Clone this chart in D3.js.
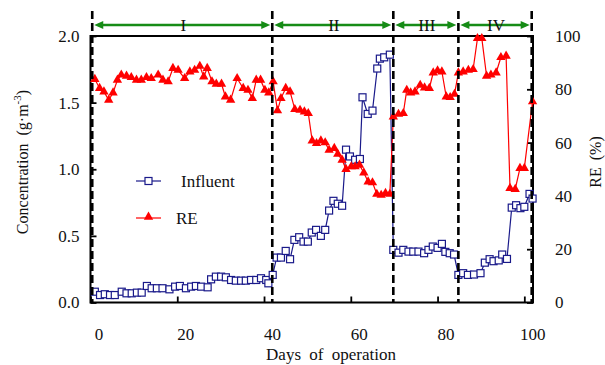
<!DOCTYPE html>
<html>
<head>
<meta charset="utf-8">
<script src="https://d3js.org/d3.v7.min.js"></script>
<style>
  body { margin: 0; background: #fff; }
  svg text { font-family: 'Liberation Serif', 'Times New Roman', serif; fill: #111; }
</style>
</head>
<body>
<div id="root"></div>
<script>
// influent concentration (g/m3)
var influentDays = [1.0, 2.2, 3.3, 4.5, 5.6, 7.2, 8.3, 9.5, 10.7, 11.8, 13.0, 14.1, 15.3, 16.6, 18.2,
  19.5, 20.6, 22.0, 23.2, 24.3, 25.5, 27.0, 27.8, 28.9, 30.1, 31.2, 32.4, 33.5, 34.7, 35.8, 37.0,
  38.2, 39.3, 40.5, 41.0, 42.0,
  42.9, 43.9, 45.0, 46.0, 47.0, 48.1, 49.1, 50.1, 51.0, 52.0, 53.1, 54.1, 55.0, 56.0, 57.0, 58.0,
  58.9, 59.8, 61.0, 62.1, 62.7, 63.9, 65.0, 66.1, 66.7, 67.7, 69.0,
  69.8, 71.0, 72.1, 73.3, 74.4, 75.6, 76.9, 77.9, 78.9, 80.0, 81.0, 81.8, 82.8, 83.8,
  84.8, 85.9, 87.0, 88.4, 89.9, 90.9, 92.0, 92.9, 94.1, 94.9, 96.0, 97.1, 98.1, 99.1, 100.0, 101.2, 101.9];
var influentValues = [0.081, 0.056, 0.062, 0.056, 0.056, 0.081, 0.069, 0.069, 0.074, 0.074, 0.124, 0.107, 0.107, 0.107, 0.099,
  0.119, 0.124, 0.107, 0.119, 0.124, 0.119, 0.114, 0.174, 0.194, 0.194, 0.189, 0.169, 0.164, 0.164, 0.164, 0.169,
  0.169, 0.182, 0.169, 0.144, 0.207,
  0.337, 0.337, 0.387, 0.325, 0.470, 0.490, 0.457, 0.457, 0.525, 0.545, 0.500, 0.545, 0.690, 0.763, 0.741, 0.726,
  1.147, 1.096, 1.071, 1.077, 1.540, 1.415, 1.440, 1.756, 1.830, 1.840, 1.860,
  0.395, 0.374, 0.395, 0.382, 0.382, 0.382, 0.370, 0.395, 0.420, 0.410, 0.440, 0.380, 0.370, 0.360,
  0.207, 0.220, 0.207, 0.210, 0.220, 0.299, 0.325, 0.310, 0.316, 0.360, 0.327, 0.712, 0.730, 0.708, 0.718, 0.815, 0.780];

// removal efficiency (%)
var reDays = [1.0, 2.1, 3.1, 4.2, 5.2, 6.2, 7.1, 8.3, 9.4, 10.6, 11.7, 12.9, 14.0, 15.6, 16.7, 17.9,
  19.0, 20.2, 21.7, 22.9, 24.0, 25.2, 26.1, 26.9, 28.0, 29.0, 30.2, 31.1, 32.3, 33.8, 35.2, 36.3,
  37.3, 38.2, 39.2, 40.2, 41.1, 42.1,
  43.1, 43.9, 45.0, 46.0, 47.1, 48.3, 49.3, 50.2, 51.1, 52.1, 53.1, 54.1, 55.0, 56.2, 57.0, 58.0,
  58.9, 60.1, 61.0, 62.0, 63.0, 64.0, 65.0, 66.0, 67.0, 68.0, 69.0,
  69.8, 71.0, 72.1, 72.9, 73.8, 74.8, 76.0, 77.0, 78.1, 79.0, 80.0, 81.0, 82.0, 82.9, 83.9,
  84.8, 85.9, 87.1, 88.2, 89.2, 90.2, 91.3, 92.3, 93.5, 94.6, 95.8, 96.7, 97.9, 99.0, 100.0, 101.9];
var reValues = [83.8, 80.4, 79.1, 76.0, 78.7, 83.5, 85.4, 85.0, 84.5, 83.5, 83.5, 84.5, 84.1, 85.4, 83.5, 82.9,
  87.9, 87.2, 84.1, 86.6, 87.2, 88.7, 84.7, 87.9, 82.9, 82.0, 82.0, 77.2, 76.0, 84.1, 80.4, 79.7,
  76.6, 83.5, 83.5, 79.7, 78.7, 82.9,
  72.0, 76.6, 80.4, 79.1, 72.5, 72.2, 71.6, 71.0, 60.7, 59.7, 60.7, 60.0, 57.2, 57.9, 55.7, 53.5,
  50.0, 51.0, 51.0, 51.6, 48.7, 45.3, 45.0, 40.7, 40.3, 41.0, 40.7,
  69.7, 70.7, 71.0, 79.7, 78.7, 79.1, 81.6, 80.6, 80.4, 86.2, 87.0, 86.6, 77.2, 77.0, 78.2,
  86.2, 86.6, 87.2, 87.5, 99.1, 99.1, 85.0, 85.4, 86.2, 92.0, 92.5, 42.9, 42.5, 50.4, 50.4, 75.4];

var phaseBounds = [0.4, 41.9, 69.8, 84.8, 101.7];
var phaseLabels = ['I', 'II', 'III', 'IV'];

var xTicks = [0, 20, 40, 60, 80, 100];
var concTicks = [0, 0.5, 1.0, 1.5, 2.0];
var reTicks = [0, 20, 40, 60, 80, 100];

var w = 605, h = 365;
var blue = '#1a1a8a', red = '#ff0000', green = '#168c16';
var serif = "'Liberation Serif', 'Times New Roman', serif";

var svg = d3.select('#root')
  .append('svg')
    .attr('width', w)
    .attr('height', h);

var x = d3.scaleLinear().domain([0, 102]).range([90.5, 533]);
var yC = d3.scaleLinear().domain([0, 2]).range([302.5, 36]);
var yR = d3.scaleLinear().domain([0, 100]).range([302.5, 36]);

var influent = influentDays.map(function (d, i) { return {day: d, v: influentValues[i]}; });
var re = reDays.map(function (d, i) { return {day: d, v: reValues[i]}; });

// axes
var xAxis = svg.append('g')
    .attr('transform', 'translate(0,' + yC(0) + ')')
    .call(d3.axisBottom(x).tickValues(xTicks).tickSizeInner(-6).tickSizeOuter(0).tickPadding(25));
xAxis.selectAll('text').attr('dx', 8);

svg.append('g')
    .attr('transform', 'translate(' + x(0) + ',0)')
    .call(d3.axisLeft(yC).tickValues(concTicks).tickFormat(d3.format('.1f'))
      .tickSizeInner(-6).tickSizeOuter(0).tickPadding(11));

svg.append('g')
    .attr('transform', 'translate(' + x(102) + ',0)')
    .call(d3.axisRight(yR).tickValues(reTicks).tickSizeInner(-6).tickSizeOuter(0).tickPadding(22));

svg.selectAll('.domain').remove();
svg.selectAll('.tick line').attr('stroke', '#000').attr('stroke-width', 1.8);
svg.selectAll('.tick text')
    .style('font-family', serif)
    .style('font-size', '17px')
    .attr('fill', '#111');

// frame
svg.append('rect')
    .attr('x', x(0))
    .attr('y', yC(2))
    .attr('width', x(102) - x(0))
    .attr('height', yC(0) - yC(2))
    .attr('fill', 'none')
    .attr('stroke', '#000')
    .attr('stroke-width', 2);

// influent series
svg.append('path')
    .datum(influent)
    .attr('fill', 'none')
    .attr('stroke', blue)
    .attr('stroke-width', 1.2)
    .attr('d', d3.line().x(function (d) { return x(d.day); }).y(function (d) { return yC(d.v); }));

svg.selectAll('.sq')
    .data(influent)
  .enter().append('rect')
    .attr('class', 'sq')
    .attr('x', function (d) { return x(d.day) - 3.5; })
    .attr('y', function (d) { return yC(d.v) - 3.5; })
    .attr('width', 7)
    .attr('height', 7)
    .attr('fill', '#fff')
    .attr('stroke', blue)
    .attr('stroke-width', 1.2);

// RE series
svg.append('path')
    .datum(re)
    .attr('fill', 'none')
    .attr('stroke', red)
    .attr('stroke-width', 1.2)
    .attr('d', d3.line().x(function (d) { return x(d.day); }).y(function (d) { return yR(d.v); }));

var tri = d3.symbol().type(d3.symbolTriangle).size(38);
svg.selectAll('.tri')
    .data(re)
  .enter().append('path')
    .attr('class', 'tri')
    .attr('d', tri)
    .attr('transform', function (d) { return 'translate(' + x(d.day) + ',' + yR(d.v) + ')'; })
    .attr('fill', red);

// phase separators
svg.selectAll('.phase')
    .data(phaseBounds)
  .enter().append('line')
    .attr('class', 'phase')
    .attr('x1', function (d) { return x(d); })
    .attr('x2', function (d) { return x(d); })
    .attr('y1', 11)
    .attr('y2', yC(0))
    .attr('stroke', '#000')
    .attr('stroke-width', 2.6)
    .attr('stroke-dasharray', '8,4');

// phase arrows
var arrowY = 25;
phaseLabels.forEach(function (lab, i) {
  var x1 = x(phaseBounds[i]) + 2, x2 = x(phaseBounds[i + 1]) - 2;
  svg.append('line')
      .attr('x1', x1 + 4).attr('x2', x2 - 4)
      .attr('y1', arrowY).attr('y2', arrowY)
      .attr('stroke', green)
      .attr('stroke-width', 2.5);
  svg.append('path')
      .attr('d', 'M' + x1 + ',' + arrowY + 'L' + (x1 + 9) + ',' + (arrowY - 4) + 'L' + (x1 + 9) + ',' + (arrowY + 4) + 'Z')
      .attr('fill', green);
  svg.append('path')
      .attr('d', 'M' + x2 + ',' + arrowY + 'L' + (x2 - 9) + ',' + (arrowY - 4) + 'L' + (x2 - 9) + ',' + (arrowY + 4) + 'Z')
      .attr('fill', green);
  svg.append('text')
      .attr('x', (x1 + x2) / 2 + 1)
      .attr('y', arrowY + 6)
      .attr('text-anchor', 'middle')
      .style('font-size', '17px')
      .text(lab);
});

// legend
var lg = svg.append('g');
lg.append('line').attr('x1', 136).attr('x2', 161).attr('y1', 181).attr('y2', 181)
    .attr('stroke', blue).attr('stroke-width', 1.2);
lg.append('rect').attr('x', 145).attr('y', 177.5).attr('width', 7).attr('height', 7)
    .attr('fill', '#fff').attr('stroke', blue).attr('stroke-width', 1.2);
lg.append('text').attr('x', 181).attr('y', 187).style('font-size', '17px').text('Influent');

lg.append('line').attr('x1', 136).attr('x2', 161).attr('y1', 218).attr('y2', 218)
    .attr('stroke', red).attr('stroke-width', 1.2);
lg.append('path').attr('d', tri).attr('transform', 'translate(148.5,217)').attr('fill', red);
lg.append('text').attr('x', 176).attr('y', 224).style('font-size', '17px').text('RE');

// axis titles
svg.append('text')
    .attr('x', 331)
    .attr('y', 360)
    .attr('text-anchor', 'middle')
    .style('font-size', '17px')
    .style('word-spacing', '4px')
    .text('Days of operation');

var yt = svg.append('text')
    .attr('transform', 'translate(28,162) rotate(-90)')
    .attr('text-anchor', 'middle')
    .style('font-size', '16px')
    .style('word-spacing', '4px');
yt.append('tspan').text('Concentration (g\u00b7m');
yt.append('tspan').attr('dy', -7).style('font-size', '11px').text('-3');
yt.append('tspan').attr('dy', 7).text(')');

svg.append('text')
    .attr('transform', 'translate(601,162) rotate(-90)')
    .attr('text-anchor', 'middle')
    .style('font-size', '16px')
    .style('word-spacing', '3px')
    .text('RE (%)');
</script>
</body>
</html>
